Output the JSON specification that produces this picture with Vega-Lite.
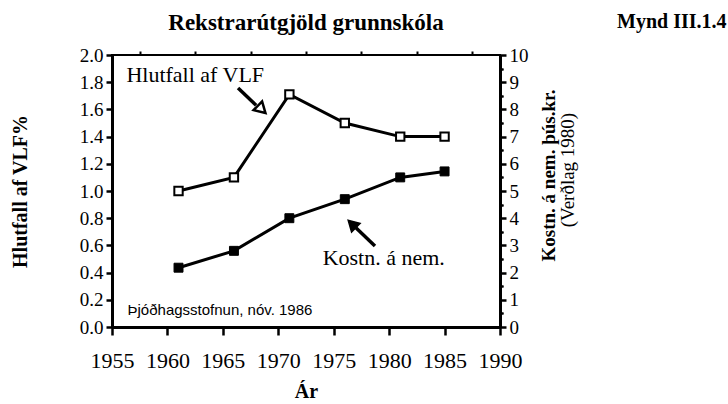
{
  "$schema": "https://vega.github.io/schema/vega-lite/v6.json",
  "width": 388,
  "height": 272,
  "autosize": "none",
  "padding": {"left": 112, "top": 55, "right": 228, "bottom": 77},
  "background": "white",
  "config": {
    "view": {"stroke": "black", "strokeWidth": 2},
    "font": "Liberation Serif"
  },
  "title": {
    "text": "Rekstrarútgjöld grunnskóla",
    "font": "Liberation Serif",
    "fontSize": 23,
    "fontWeight": "bold",
    "color": "black",
    "anchor": "middle",
    "frame": "group",
    "offset": -23
  },
  "datasets": {
    "vlf": [
      {"year": 1961, "v": 1.0},
      {"year": 1966, "v": 1.1},
      {"year": 1971, "v": 1.71},
      {"year": 1976, "v": 1.5},
      {"year": 1981, "v": 1.4},
      {"year": 1985, "v": 1.4}
    ],
    "kostn": [
      {"year": 1961, "k": 2.18},
      {"year": 1966, "k": 2.8},
      {"year": 1971, "k": 4.0},
      {"year": 1976, "k": 4.7},
      {"year": 1981, "k": 5.5},
      {"year": 1985, "k": 5.72}
    ],
    "labels": [
      {"year": 1956.3, "v": 1.85, "label": "Hlutfall af VLF"},
      {"year": 1974.0, "v": 0.507, "label": "Kostn. á nem."}
    ],
    "source": [
      {"year": 1956.4, "v": 0.125, "label": "Þjóðhagsstofnun, nóv. 1986"}
    ],
    "mynd": [
      {"year": 2005.5, "v": 2.243, "label": "Mynd III.1.4"}
    ],
    "verdlag": [
      {"year": 1996.1, "v": 1.154, "label": "(Verðlag 1980)"}
    ],
    "shafts": [
      {"year": 1966.37, "v": 1.757, "year2": 1968.0, "v2": 1.63},
      {"year": 1978.72, "v": 0.596, "year2": 1977.0, "v2": 0.73}
    ],
    "headOpen": [
      {"year": 1968.5, "v": 1.6}
    ],
    "headFilled": [
      {"year": 1976.65, "v": 0.757}
    ]
  },
  "layer": [
    {
      "data": {"name": "vlf"},
      "mark": {"type": "line", "color": "black", "strokeWidth": 3},
      "encoding": {
        "x": {
          "field": "year",
          "type": "quantitative",
          "title": "Ár",
          "scale": {"domain": [1955, 1990], "nice": false, "zero": false},
          "axis": {
            "grid": false,
            "ticks": true,
            "zindex": 1,
            "values": [1955, 1960, 1965, 1970, 1975, 1980, 1985, 1990],
            "format": "d",
            "labelFont": "Liberation Serif",
            "labelFontSize": 22,
            "labelColor": "black",
            "labelPadding": 15,
            "labelOverlap": false,
            "labelFlush": false,
            "domainColor": "black",
            "domainWidth": 3,
            "tickColor": "black",
            "tickOpacity": 1,
            "tickWidth": 2.5,
            "tickSize": 8,
            "titleFont": "Liberation Serif",
            "titleFontWeight": "bold",
            "titleColor": "black",
            "titleFontSize": 20,
            "titlePadding": 10
          }
        },
        "y": {
          "field": "v",
          "type": "quantitative",
          "title": "Hlutfall af VLF%",
          "scale": {"domain": [0, 2], "nice": false, "zero": true},
          "axis": {
            "grid": false,
            "ticks": true,
            "zindex": 1,
            "values": [0, 0.2, 0.4, 0.6, 0.8, 1.0, 1.2, 1.4, 1.6, 1.8, 2.0],
            "format": ".1f",
            "labelFont": "Liberation Serif",
            "labelFontSize": 19,
            "labelColor": "black",
            "labelPadding": 3,
            "labelOverlap": false,
            "labelFlush": false,
            "domainColor": "black",
            "domainWidth": 3,
            "tickColor": "black",
            "tickOpacity": 1,
            "tickWidth": 2.5,
            "tickSize": 6,
            "titleFont": "Liberation Serif",
            "titleFontWeight": "bold",
            "titleColor": "black",
            "titleFontSize": 20,
            "titlePadding": 49
          }
        }
      }
    },
    {
      "data": {"name": "vlf"},
      "mark": {"type": "point", "shape": "square", "size": 70, "filled": true, "fill": "white", "stroke": "black", "strokeWidth": 2, "opacity": 1},
      "encoding": {
        "x": {
          "field": "year",
          "type": "quantitative",
          "axis": {
            "values": [1957.5, 1962.5, 1967.5, 1972.5, 1977.5, 1982.5, 1987.5],
            "labels": false,
            "domain": false,
            "grid": false,
            "ticks": true,
            "zindex": 1,
            "title": null,
            "tickColor": "black",
            "tickOpacity": 1,
            "tickWidth": 2,
            "tickSize": 4
          }
        },
        "y": {
          "field": "v",
          "type": "quantitative",
          "scale": {"domain": [0, 2], "nice": false},
          "axis": {
            "values": [0.1, 0.3, 0.5, 0.7, 0.9, 1.1, 1.3, 1.5, 1.7, 1.9],
            "labels": false,
            "domain": false,
            "grid": false,
            "ticks": true,
            "zindex": 1,
            "title": null,
            "tickColor": "black",
            "tickOpacity": 1,
            "tickWidth": 2,
            "tickSize": 3
          }
        }
      }
    },
    {
      "data": {"name": "kostn"},
      "mark": {"type": "line", "color": "black", "strokeWidth": 3},
      "encoding": {
        "x": {"field": "year", "type": "quantitative", "axis": null},
        "y": {
          "field": "k",
          "type": "quantitative",
          "title": "Kostn. á nem. þús.kr.",
          "scale": {"domain": [0, 10], "nice": false, "zero": true},
          "axis": {
            "orient": "right",
            "grid": false,
            "ticks": true,
            "zindex": 1,
            "values": [0, 1, 2, 3, 4, 5, 6, 7, 8, 9, 10],
            "format": "d",
            "labelFont": "Liberation Serif",
            "labelFontSize": 19,
            "labelColor": "black",
            "labelPadding": 3,
            "labelOverlap": false,
            "labelFlush": false,
            "domainColor": "black",
            "domainWidth": 3,
            "tickColor": "black",
            "tickOpacity": 1,
            "tickWidth": 2.5,
            "tickSize": 6,
            "titleFont": "Liberation Serif",
            "titleFontWeight": "bold",
            "titleColor": "black",
            "titleFontSize": 19,
            "titleAngle": 270,
            "titleY": 120,
            "titlePadding": 30
          }
        }
      }
    },
    {
      "data": {"name": "kostn"},
      "mark": {"type": "point", "shape": "square", "size": 80, "filled": true, "fill": "black", "stroke": "black", "strokeWidth": 1, "opacity": 1},
      "encoding": {
        "x": {"field": "year", "type": "quantitative", "axis": null},
        "y": {
          "field": "k",
          "type": "quantitative",
          "scale": {"domain": [0, 10], "nice": false},
          "axis": {
            "orient": "right",
            "values": [0.5, 1.5, 2.5, 3.5, 4.5, 5.5, 6.5, 7.5, 8.5, 9.5],
            "labels": false,
            "domain": false,
            "grid": false,
            "ticks": true,
            "zindex": 1,
            "title": null,
            "tickColor": "black",
            "tickOpacity": 1,
            "tickWidth": 2,
            "tickSize": 3
          }
        }
      }
    },
    {
      "data": {"name": "labels"},
      "mark": {"type": "text", "align": "left", "baseline": "middle", "font": "Liberation Serif", "fontSize": 22, "color": "black"},
      "encoding": {
        "x": {"field": "year", "type": "quantitative", "axis": null},
        "y": {"field": "v", "type": "quantitative", "scale": {"domain": [0, 2], "nice": false}, "axis": null},
        "text": {"field": "label"}
      }
    },
    {
      "data": {"name": "source"},
      "mark": {"type": "text", "align": "left", "baseline": "middle", "font": "Liberation Sans", "fontSize": 15, "color": "black"},
      "encoding": {
        "x": {"field": "year", "type": "quantitative", "axis": null},
        "y": {"field": "v", "type": "quantitative", "scale": {"domain": [0, 2], "nice": false}, "axis": null},
        "text": {"field": "label"}
      }
    },
    {
      "data": {"name": "mynd"},
      "mark": {"type": "text", "align": "center", "baseline": "middle", "font": "Liberation Serif", "fontSize": 20, "fontWeight": "bold", "color": "black"},
      "encoding": {
        "x": {"field": "year", "type": "quantitative", "axis": null},
        "y": {"field": "v", "type": "quantitative", "scale": {"domain": [0, 2], "nice": false}, "axis": null},
        "text": {"field": "label"}
      }
    },
    {
      "data": {"name": "verdlag"},
      "mark": {"type": "text", "align": "center", "baseline": "middle", "angle": 270, "font": "Liberation Serif", "fontSize": 19, "color": "black"},
      "encoding": {
        "x": {"field": "year", "type": "quantitative", "axis": null},
        "y": {"field": "v", "type": "quantitative", "scale": {"domain": [0, 2], "nice": false}, "axis": null},
        "text": {"field": "label"}
      }
    },
    {
      "data": {"name": "shafts"},
      "mark": {"type": "rule", "color": "black", "strokeWidth": 3.5},
      "encoding": {
        "x": {"field": "year", "type": "quantitative", "axis": null},
        "y": {"field": "v", "type": "quantitative", "scale": {"domain": [0, 2], "nice": false}, "axis": null},
        "x2": {"field": "year2"},
        "y2": {"field": "v2"}
      }
    },
    {
      "data": {"name": "headOpen"},
      "mark": {"type": "point", "shape": "triangle-up", "size": 150, "angle": 134, "filled": true, "fill": "white", "stroke": "black", "strokeWidth": 2.5, "opacity": 1},
      "encoding": {
        "x": {"field": "year", "type": "quantitative", "axis": null},
        "y": {"field": "v", "type": "quantitative", "scale": {"domain": [0, 2], "nice": false}, "axis": null}
      }
    },
    {
      "data": {"name": "headFilled"},
      "mark": {"type": "point", "shape": "triangle-up", "size": 150, "angle": 314, "filled": true, "fill": "black", "stroke": "black", "strokeWidth": 1.5, "opacity": 1},
      "encoding": {
        "x": {"field": "year", "type": "quantitative", "axis": null},
        "y": {"field": "v", "type": "quantitative", "scale": {"domain": [0, 2], "nice": false}, "axis": null}
      }
    }
  ],
  "resolve": {"scale": {"y": "independent"}, "axis": {"x": "independent", "y": "independent"}}
}
